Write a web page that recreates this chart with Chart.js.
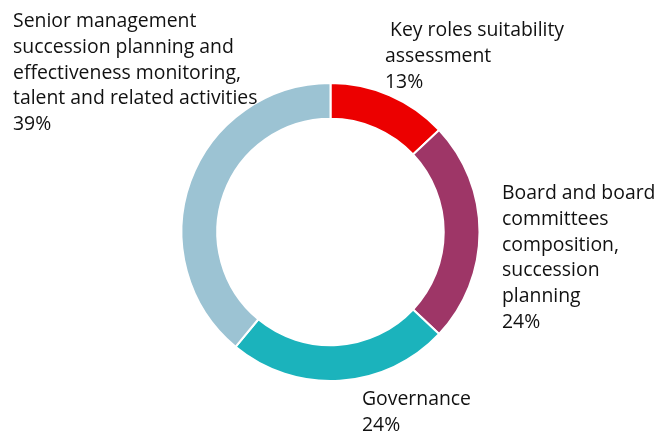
<!DOCTYPE html>
<html>
<head>
<meta charset="utf-8">
<script src="https://cdn.jsdelivr.net/npm/chart.js@4"></script>
<style>
  html, body { margin: 0; padding: 0; background: #fff; }
  #wrap { position: relative; width: 665px; height: 433px; }
  #chart { position: absolute; left: 0; top: 0; }
  .lbl {
    position: absolute;
    font-family: "Open Sans", sans-serif;
    font-size: 19.4px;
    line-height: 25.8px;
    color: #111;
    white-space: pre;
  }
</style>
</head>
<body>
<div id="wrap">
  <canvas id="chart" width="665" height="433"></canvas>
</div>
<script>
const categories = [
  ' Key roles suitability\nassessment',
  'Board and board\ncommittees\ncomposition,\nsuccession\nplanning',
  'Governance',
  'Senior management\nsuccession planning and\neffectiveness monitoring,\ntalent and related activities'
];
const shares = [13, 24, 24, 39];
const colors = ['#ec0000', '#9e3667', '#1bb3bc', '#9cc3d3'];
// where each label box sits (left, top)
const labelPos = [[385, 16], [502, 179], [362, 385], [13, 7]];

new Chart(document.getElementById('chart'), {
  type: 'doughnut',
  data: {
    labels: categories,
    datasets: [{
      data: shares,
      backgroundColor: colors,
      borderColor: '#fff',
      borderWidth: 2
    }]
  },
  options: {
    responsive: false,
    animation: false,
    radius: 149,
    cutout: '76%',
    layout: { padding: { left: 0, right: 4, top: 31, bottom: 0 } },
    plugins: { legend: { display: false }, tooltip: { enabled: false } }
  }
});

const wrap = document.getElementById('wrap');
categories.forEach((c, i) => {
  const d = document.createElement('div');
  d.className = 'lbl';
  d.style.left = labelPos[i][0] + 'px';
  d.style.top = labelPos[i][1] + 'px';
  d.textContent = c + '\n' + shares[i] + '%';
  wrap.appendChild(d);
});
</script>
</body>
</html>
